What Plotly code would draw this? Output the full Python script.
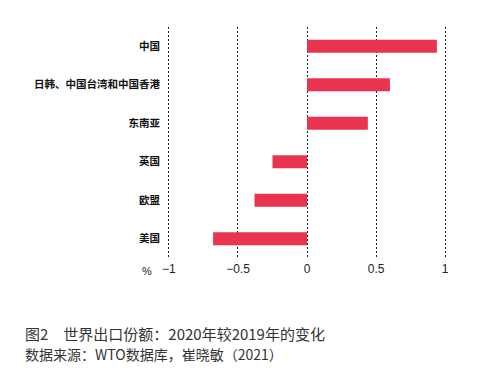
import plotly.graph_objects as go

categories = ["中国", "日韩、中国台湾和中国香港", "东南亚", "英国", "欧盟", "美国"]
values = [0.94, 0.60, 0.44, -0.25, -0.38, -0.68]
tick_vals = [-1, -0.5, 0, 0.5, 1]
tick_text = ["−1", "−0.5", "0", "0.5", "1"]

fig = go.Figure(go.Bar(
    x=values, y=categories, orientation="h",
    marker=dict(color="#E8344E", line=dict(width=0)),
    width=0.34,
))

fig.update_layout(
    width=497, height=382,
    margin=dict(l=162, r=38, t=27, b=124),
    plot_bgcolor="white", paper_bgcolor="white",
    showlegend=False,
    font=dict(family="Liberation Sans, Arial", color="#222"),
    xaxis=dict(
        range=[-1.05, 1.1], tickvals=tick_vals, ticktext=tick_text,
        showgrid=True, gridcolor="#222", griddash="2px,2px", gridwidth=1,
        zeroline=False, showline=False, ticks="", ticklabelstandoff=2,
        tickfont=dict(size=12, color="#222"),
    ),
    yaxis=dict(
        categoryorder="array", categoryarray=categories[::-1],
        range=[-0.5, 5.5], showgrid=False, zeroline=False, showline=False,
        ticks="", ticklabelstandoff=1,
        tickfont=dict(size=10.5, family="Noto Sans CJK SC", color="#111", weight="bold"),
    ),
    annotations=[
        dict(text="%", xref="paper", yref="paper", x=-0.05, y=0, yshift=-13,
             xanchor="center", yanchor="middle", showarrow=False,
             font=dict(size=11, color="#222")),
        dict(text="图2　世界出口份额：2020年较2019年的变化", xref="paper", yref="paper",
             x=-162/297, xshift=23, y=0, yshift=-75, xanchor="left", yanchor="middle",
             showarrow=False, font=dict(size=15, family="Noto Sans CJK SC", color="#333")),
        dict(text="数据来源：WTO数据库，崔晓敏（2021）", xref="paper", yref="paper",
             x=-162/297, xshift=23, y=0, yshift=-96, xanchor="left", yanchor="middle",
             showarrow=False, font=dict(size=14, family="Noto Sans CJK SC", color="#333")),
    ],
)

fig.write_html("out.html")
